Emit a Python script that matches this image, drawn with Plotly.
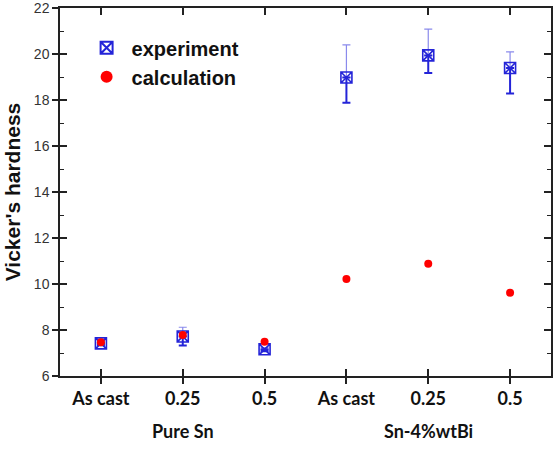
import plotly.graph_objects as go

categories = ["As cast", "0.25", "0.5", "As cast", "0.25", "0.5"]
positions = [0, 1, 2, 3, 4, 5]
groups = ["Pure Sn", "Sn-4%wtBi"]
group_pos = [1, 4]

experiment = [7.42, 7.72, 7.16, 18.98, 19.94, 19.39]
exp_err_plus = [0.08, 0.40, 0.08, 1.42, 1.14, 0.70]
exp_err_minus = [0.08, 0.39, 0.08, 1.10, 0.77, 1.11]
calculation = [7.47, 7.78, 7.49, 10.22, 10.88, 9.62]

yticks = [6, 8, 10, 12, 14, 16, 18, 20, 22]

BLUE = "#2424d8"

fig = go.Figure()

# upper error (thin, light)
fig.add_trace(go.Scatter(
    x=positions, y=experiment, mode="markers",
    marker=dict(size=0.1, color="rgba(0,0,0,0)"),
    error_y=dict(type="data", array=exp_err_plus, arrayminus=[0]*6,
                 color="#8a8aec", thickness=1.2, width=4),
    showlegend=False, hoverinfo="skip"))
# lower error (thicker)
fig.add_trace(go.Scatter(
    x=positions, y=experiment, mode="markers",
    marker=dict(size=0.1, color="rgba(0,0,0,0)"),
    error_y=dict(type="data", array=[0]*6, arrayminus=exp_err_minus,
                 color=BLUE, thickness=2, width=4),
    showlegend=False, hoverinfo="skip"))

fig.add_trace(go.Scatter(
    x=positions, y=experiment, mode="markers", name="experiment",
    marker=dict(symbol="square-x-open", size=11, color=BLUE,
                line=dict(width=1.6, color=BLUE))))

fig.add_trace(go.Scatter(
    x=positions, y=calculation, mode="markers", name="calculation",
    marker=dict(symbol="circle", size=8, color="#ff0000")))

# invisible trace for outside-tick overlay axes
fig.add_trace(go.Scatter(x=[positions[0]], y=[yticks[0]], xaxis="x2", yaxis="y2",
                         mode="markers", marker=dict(size=0.1, color="rgba(0,0,0,0)"),
                         showlegend=False, hoverinfo="skip"))

for i, g in enumerate(groups):
    fig.add_annotation(x=group_pos[i], xref="x", y=-0.149, yref="paper",
                       text=g, showarrow=False, yanchor="middle",
                       font=dict(family="Lato", size=18, color="#111", weight="bold"))

axis_common = dict(showline=True, linecolor="#222", linewidth=1.5, showgrid=False,
                   zeroline=False, automargin=False)

fig.update_layout(
    width=557, height=452,
    margin=dict(l=60, r=6, t=8, b=76),
    plot_bgcolor="white", paper_bgcolor="white",
    xaxis=dict(range=[-0.5, 5.5], tickvals=positions, ticktext=categories,
               ticks="inside", ticklen=7, tickwidth=1.5, tickcolor="#222",
               mirror="ticks", ticklabelstandoff=6,
               tickfont=dict(family="Lato", size=18, color="#111", weight="bold"),
               **axis_common),
    yaxis=dict(range=[6, 22], tickvals=yticks, ticks="inside", ticklen=7,
               tickwidth=1.5, tickcolor="#222", mirror="ticks",
               ticklabelstandoff=6, ticklabeloverflow="allow",
               minor=dict(dtick=1, ticks="inside", ticklen=4, tickwidth=1.2, tickcolor="#222"),
               tickfont=dict(family="Arial", size=14, color="#333"),
               title=dict(text="Vicker's hardness",
                          font=dict(family="Arial", size=21, color="#111", weight="bold"),
                          standoff=8),
               **axis_common),
    xaxis2=dict(range=[-0.5, 5.5], tickvals=positions, overlaying="x", anchor="y",
                side="bottom", ticks="outside", ticklen=7, tickwidth=1.5, tickcolor="#222",
                showticklabels=False, showline=False, showgrid=False, zeroline=False,
                automargin=False),
    yaxis2=dict(range=[6, 22], tickvals=yticks, overlaying="y", anchor="x",
                side="left", ticks="outside", ticklen=7, tickwidth=1.5, tickcolor="#222",
                showticklabels=False, showline=False, showgrid=False, zeroline=False,
                automargin=False),
    legend=dict(x=0.044, y=0.945, xanchor="left", yanchor="top",
                bgcolor="rgba(0,0,0,0)",
                font=dict(family="Arial", size=20, color="#111", weight="bold"),
                itemsizing="constant", itemwidth=40, tracegroupgap=0),
    showlegend=True,
)

fig.write_html("out.html")
